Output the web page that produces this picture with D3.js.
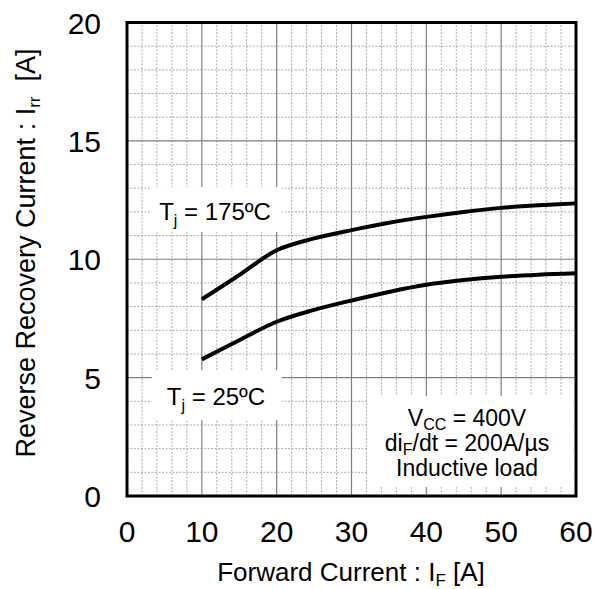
<!DOCTYPE html>
<html><head><meta charset="utf-8">
<script src="https://cdn.jsdelivr.net/npm/d3@7"></script>
<style>body{margin:0;background:#fff}svg{display:block}text{font-family:"Liberation Sans",Arial,sans-serif;fill:#000}</style>
</head><body>
<svg id="c" width="594" height="589"></svg>
<script>
const xTicks = [0, 10, 20, 30, 40, 50, 60];
const yTicks = [0, 5, 10, 15, 20];
const ifA = [10, 15, 20, 25, 30, 35, 40, 45, 50, 55, 60];
const irr175 = [8.31, 9.33, 10.38, 10.88, 11.23, 11.54, 11.79, 12.0, 12.17, 12.28, 12.36];
const irr25 = [5.77, 6.58, 7.36, 7.86, 8.26, 8.62, 8.92, 9.12, 9.26, 9.35, 9.41];

const svg = d3.select('#c');
const x = d3.scaleLinear().domain([0, 60]).range([127, 576]);
const y = d3.scaleLinear().domain([0, 20]).range([496, 22.5]);

// grid
const g = svg.append('g');
const minorX = d3.range(0, 61, 2).filter(v => v % 10 !== 0);
const minorY = d3.range(0, 21, 1).filter(v => v % 5 !== 0);
g.selectAll('.mx').data(minorX).join('line')
  .attr('x1', d => x(d)).attr('x2', d => x(d)).attr('y1', y(0)).attr('y2', y(20))
  .attr('stroke', '#ababab').attr('stroke-width', 1).attr('stroke-dasharray', '2,1.5');
g.selectAll('.my').data(minorY).join('line')
  .attr('y1', d => y(d)).attr('y2', d => y(d)).attr('x1', x(0)).attr('x2', x(60))
  .attr('stroke', '#ababab').attr('stroke-width', 1).attr('stroke-dasharray', '2,1.5');
g.selectAll('.Mx').data(xTicks.slice(1, -1)).join('line')
  .attr('x1', d => x(d)).attr('x2', d => x(d)).attr('y1', y(0)).attr('y2', y(20))
  .attr('stroke', '#7f7f7f').attr('stroke-width', 1.2);
g.selectAll('.My').data(yTicks.slice(1, -1)).join('line')
  .attr('y1', d => y(d)).attr('y2', d => y(d)).attr('x1', x(0)).attr('x2', x(60))
  .attr('stroke', '#7f7f7f').attr('stroke-width', 1.2);

// white label boxes
const boxes = [[3.1, 20.7, 13.05, 11.15], [3.3, 20.7, 5.32, 3.21], [32.2, 59.6, 4.22, 0.38]];
svg.selectAll('.box').data(boxes).join('rect')
  .attr('x', d => x(d[0])).attr('y', d => y(d[2]))
  .attr('width', d => x(d[1]) - x(d[0])).attr('height', d => y(d[3]) - y(d[2]))
  .attr('fill', '#fff');

// curves
const line = d3.line().x((d, i) => x(ifA[i])).y(d => y(d)).curve(d3.curveCatmullRom.alpha(0.5));
[irr175, irr25].forEach(s => {
  svg.append('path').attr('d', line(s)).attr('fill', 'none')
    .attr('stroke', '#000').attr('stroke-width', 4).attr('stroke-linecap', 'butt');
});

// border
svg.append('rect').attr('x', x(0)).attr('y', y(20))
  .attr('width', x(60) - x(0)).attr('height', y(0) - y(20))
  .attr('fill', 'none').attr('stroke', '#000').attr('stroke-width', 3);

// tick labels
svg.selectAll('.xt').data(xTicks).join('text')
  .attr('x', d => x(d)).attr('y', 542).attr('text-anchor', 'middle')
  .attr('font-size', 30).text(d => d);
svg.selectAll('.yt').data(yTicks).join('text')
  .attr('x', 101).attr('y', d => y(d) + 11).attr('text-anchor', 'end')
  .attr('font-size', 30).text(d => d);

// axis labels
const xl = svg.append('text').attr('x', 351).attr('y', 581).attr('text-anchor', 'middle').attr('font-size', 26);
xl.append('tspan').text('Forward Current : I');
xl.append('tspan').attr('font-size', 17).attr('dy', 5).text('F');
xl.append('tspan').attr('dy', -5).text(' [A]');

const yl = svg.append('text').attr('transform', 'translate(35,253) rotate(-90)').attr('text-anchor', 'middle').attr('font-size', 27)
  .attr('xml:space', 'preserve');
yl.append('tspan').text('Reverse Recovery Current : I');
yl.append('tspan').attr('font-size', 17).attr('dy', 5).text('rr');
yl.append('tspan').attr('dy', -5).text('  [A]');

// annotations
function tj(cx, cy, t) {
  const e = svg.append('text').attr('x', cx).attr('y', cy).attr('text-anchor', 'middle').attr('font-size', 24);
  e.append('tspan').text('T');
  e.append('tspan').attr('font-size', 16).attr('dy', 6).text('j');
  e.append('tspan').attr('dy', -6).text(' = ' + t);
}
tj(215, 220, '175ºC');
tj(216, 405, '25ºC');

const c1 = svg.append('text').attr('x', 467).attr('y', 426).attr('text-anchor', 'middle').attr('font-size', 23);
c1.append('tspan').text('V');
c1.append('tspan').attr('font-size', 16).attr('dy', 4).text('CC');
c1.append('tspan').attr('dy', -4).text(' = 400V');
const c2 = svg.append('text').attr('x', 467).attr('y', 451).attr('text-anchor', 'middle').attr('font-size', 23);
c2.append('tspan').text('di');
c2.append('tspan').attr('font-size', 16).attr('dy', 4).text('F');
c2.append('tspan').attr('dy', -4).text('/dt = 200A/µs');
svg.append('text').attr('x', 467).attr('y', 476).attr('text-anchor', 'middle').attr('font-size', 23).text('Inductive load');
</script>
</body></html>
